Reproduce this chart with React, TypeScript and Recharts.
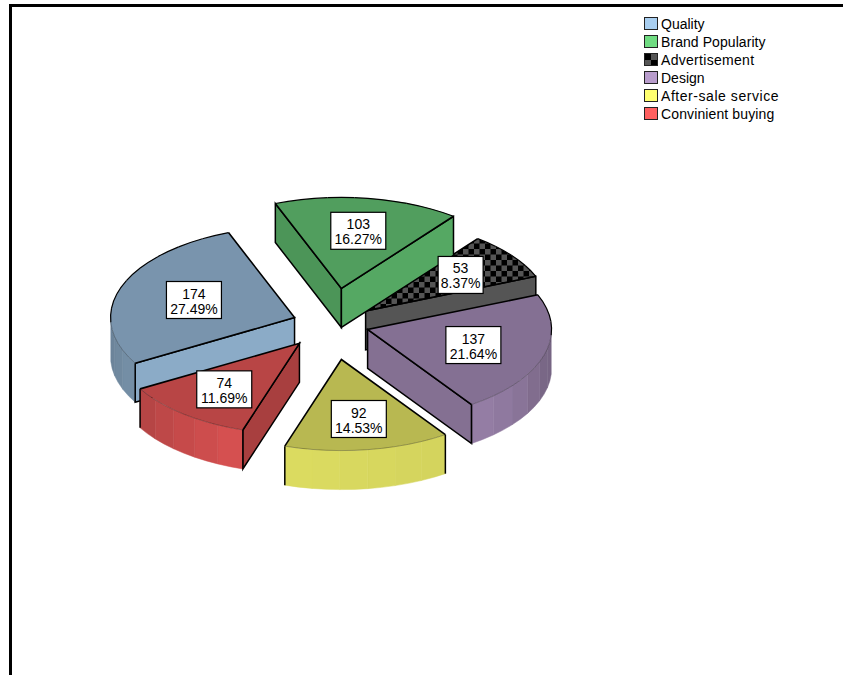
import { Legend, Pie, PieChart } from 'recharts'

const factors = ['Quality', 'Brand Popularity', 'Advertisement', 'Design', 'After-sale service', 'Convinient buying']
const votes = [174, 103, 53, 137, 92, 74]
const colours = ['#a8cef0', '#70dc82', '#000000', '#b89ccc', '#ffff70', '#ff6060']

const rows = factors.map((name, i) => ({ name, value: votes[i] }))

// slices painted first, so their neighbours can overlap them
const BACK = ['Quality', 'Advertisement']

const FONT = '"Liberation Sans", Arial, sans-serif'
const TILT = 0.495
const DEPTH = 39
const EXPLODE = 37
const CHECK = '#555555'
const TOP_SHADE = 0.72
const LABEL_REACH: Record<string, number> = {
  Quality: 0.58,
  'Brand Popularity': 0.64,
  Advertisement: 0.65,
  Design: 0.6,
  'After-sale service': 0.66,
  'Convinient buying': 0.65,
}
const LEGEND_TRACKING: Record<string, number> = {
  'Brand Popularity': 0.07,
  Advertisement: 0.3,
  'After-sale service': 0.55,
  'Convinient buying': 0.12,
}

const rad = (deg: number) => (deg * Math.PI) / 180

// brightness of a wall by the direction it faces, in degrees
const SHADE_STOPS = [
  [180, 0.62],
  [210, 0.7],
  [255, 0.86],
  [300, 0.83],
  [323, 0.76],
  [342, 0.66],
  [360, 0.64],
]

function shadeFor(deg: number) {
  const a = ((deg % 360) + 360) % 360
  for (let i = 1; i < SHADE_STOPS.length; i++) {
    const [a0, s0] = SHADE_STOPS[i - 1]
    const [a1, s1] = SHADE_STOPS[i]
    if (a <= a1) return s0 + ((s1 - s0) * Math.max(a - a0, 0)) / (a1 - a0)
  }
  return 0.64
}

function tint(hex: string, k: number) {
  const n = parseInt(hex.slice(1), 16)
  const c = [(n >> 16) & 255, (n >> 8) & 255, n & 255].map(v => Math.round(v * k))
  return `rgb(${c[0]},${c[1]},${c[2]})`
}

function geometry(p: any) {
  const rx = p.outerRadius
  const ry = rx * TILT
  const mid = (p.startAngle + p.endAngle) / 2
  const mx = rx * Math.cos(rad(mid))
  const my = -ry * Math.sin(rad(mid))
  const len = Math.hypot(mx, my)
  const ax = p.cx + (EXPLODE * mx) / len
  const ay = p.cy + (EXPLODE * my) / len
  const at = (deg: number) => [ax + rx * Math.cos(rad(deg)), ay - ry * Math.sin(rad(deg))]
  return { rx, ry, mx, my, ax, ay, at }
}

// three dimensional wedge: walls first, then the top face over them
function Wedge(props: any) {
  const { startAngle, endAngle, name } = props
  const { rx, ry, ax, ay, at } = geometry(props)
  const base = colours[factors.indexOf(name)]
  const isCheck = base === '#000000'
  const wallFill = (deg: number) => (isCheck ? CHECK : tint(base, shadeFor(deg)))

  const [sx, sy] = at(startAngle)
  const [ex, ey] = at(endAngle)

  const cutWalls = [
    { x: sx, y: sy, normal: startAngle + 90 },
    { x: ex, y: ey, normal: endAngle - 90 },
  ].filter(w => Math.sin(rad(w.normal)) < 0)

  const steps = Math.ceil((startAngle - endAngle) / 9)
  const facets: { d: string; fill: string }[] = []
  for (let i = 0; i < steps; i++) {
    const a0 = startAngle + ((endAngle - startAngle) * i) / steps
    const a1 = startAngle + ((endAngle - startAngle) * (i + 1)) / steps
    if (Math.sin(rad((a0 + a1) / 2)) >= 0) continue
    const [x0, y0] = at(a0)
    const [x1, y1] = at(a1)
    facets.push({
      d: `M${x0} ${y0}A${rx} ${ry} 0 0 1 ${x1} ${y1}L${x1} ${y1 + DEPTH}A${rx} ${ry} 0 0 0 ${x0} ${y0 + DEPTH}Z`,
      fill: wallFill((a0 + a1) / 2),
    })
  }

  const sideEdges = [startAngle, endAngle].filter(a => Math.sin(rad(a)) < 0).map(at)
  const large = startAngle - endAngle > 180 ? 1 : 0
  const topFill = isCheck ? 'url(#adCheck)' : tint(base, TOP_SHADE)

  // outline of the rim: solid along the back, faint where a wall hangs below it
  const rim: { d: string; front: boolean }[] = []
  for (let i = 0; i < steps; i++) {
    const a0 = startAngle + ((endAngle - startAngle) * i) / steps
    const a1 = startAngle + ((endAngle - startAngle) * (i + 1)) / steps
    const [x0, y0] = at(a0)
    const [x1, y1] = at(a1)
    rim.push({ d: `M${x0} ${y0}A${rx} ${ry} 0 0 1 ${x1} ${y1}`, front: Math.sin(rad((a0 + a1) / 2)) < 0 })
  }

  return (
    <g>
      {isCheck && (
        <defs>
          <pattern id="adCheck" width={11} height={11} patternUnits="userSpaceOnUse">
            <rect width={11} height={11} fill="#000000" />
            <rect width={5.5} height={5.5} fill={CHECK} />
            <rect x={5.5} y={5.5} width={5.5} height={5.5} fill={CHECK} />
          </pattern>
        </defs>
      )}
      {cutWalls.map((w, i) => (
        <path
          key={i}
          d={`M${ax} ${ay}L${w.x} ${w.y}L${w.x} ${w.y + DEPTH}L${ax} ${ay + DEPTH}Z`}
          fill={wallFill(w.normal)}
          stroke="#000000"
          strokeWidth={1.5}
        />
      ))}
      {facets.map((f, i) => (
        <path key={i} d={f.d} fill={f.fill} stroke={f.fill} strokeWidth={0.5} />
      ))}
      {sideEdges.map(([x, y], i) => (
        <line key={i} x1={x} y1={y} x2={x} y2={y + DEPTH} stroke="#000000" strokeWidth={1.5} />
      ))}
      <path d={`M${ax} ${ay}L${sx} ${sy}A${rx} ${ry} 0 ${large} 1 ${ex} ${ey}Z`} fill={topFill} />
      {rim.map((r, i) => (
        <path
          key={i}
          d={r.d}
          fill="none"
          stroke={r.front ? 'rgba(0,0,0,0.35)' : '#000000'}
          strokeWidth={r.front ? 0.8 : 1.2}
        />
      ))}
      <path d={`M${sx} ${sy}L${ax} ${ay}L${ex} ${ey}`} fill="none" stroke="#000000" strokeWidth={1.6} />
    </g>
  )
}

// white value box over the top face
function ValueBox(props: any) {
  const { name, value, percent } = props
  const { mx, my, ax, ay } = geometry(props)
  const reach = LABEL_REACH[name]
  const x = ax + mx * reach
  const y = ay + my * reach
  const pct = `${(percent * 100).toFixed(2)}%`
  const w = pct.length > 5 ? 55 : 45
  return (
    <g fontFamily={FONT} fontSize={14} fill="#000000" textAnchor="middle">
      <rect x={x - w / 2} y={y - 18.5} width={w} height={37} fill="#ffffff" stroke="#000000" strokeWidth={1.2} />
      <text x={x} y={y - 1.5} stroke="none">{value}</text>
      <text x={x} y={y + 13.5} stroke="none">{pct}</text>
    </g>
  )
}

function FactorLegend() {
  return (
    <div style={{ fontFamily: FONT, fontSize: 14, color: '#000000' }}>
      {factors.map((name, i) => (
        <div key={name} style={{ display: 'flex', alignItems: 'center', height: 18 }}>
          <span
            style={{
              width: 12,
              height: 11,
              marginRight: 3,
              border: '1px solid #222222',
              background:
                colours[i] === '#000000'
                  ? `conic-gradient(${CHECK} 25%, #000000 0 50%, ${CHECK} 0 75%, #000000 0) 0 0 / 12px 12px`
                  : colours[i],
            }}
          />
          <span style={{ letterSpacing: LEGEND_TRACKING[name] ?? 0 }}>{name}</span>
        </div>
      ))}
    </div>
  )
}

const pieProps = {
  data: rows,
  dataKey: 'value',
  nameKey: 'name',
  cx: 319,
  cy: 317,
  outerRadius: 184,
  startAngle: 210,
  endAngle: -150,
  stroke: 'none',
  isAnimationActive: false,
  legendType: 'none' as const,
}

export default function App() {
  return (
    <div style={{ position: 'absolute', left: 0, top: 0, width: 843, height: 675, overflow: 'hidden', background: '#ffffff' }}>
      <div
        style={{
          position: 'absolute',
          left: 9,
          top: 4,
          width: 834,
          height: 671,
          borderTop: '3px solid #000000',
          borderLeft: '3px solid #000000',
          boxSizing: 'border-box',
        }}
      >
        <PieChart width={831} height={668} margin={{ top: 0, right: 0, bottom: 0, left: 0 }}>
          <Pie {...pieProps} shape={(p: any) => (BACK.includes(p.name) ? <Wedge {...p} /> : <g />)} />
          <Pie {...pieProps} shape={(p: any) => (BACK.includes(p.name) ? <g /> : <Wedge {...p} />)} />
          <Pie {...pieProps} shape={(p: any) => <ValueBox {...p} />} />
          <Legend
            content={() => <FactorLegend />}
            wrapperStyle={{ position: 'absolute', left: 632, top: 7.5, width: 190, bottom: 'auto' }}
          />
        </PieChart>
      </div>
    </div>
  )
}
